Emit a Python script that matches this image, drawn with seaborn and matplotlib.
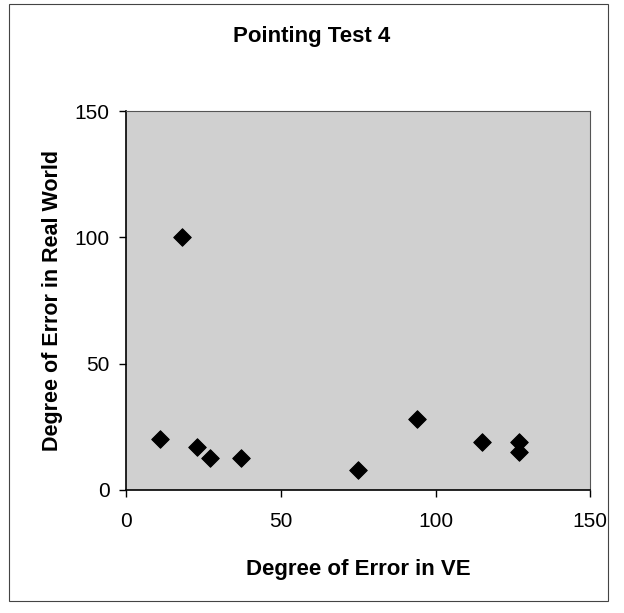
import pandas as pd
import matplotlib.pyplot as plt
import seaborn as sns

# Pointing Test 4 values
error_ve = [11, 18, 23, 27, 37, 75, 94, 115, 127, 127]
error_real = [20, 100, 17, 12.5, 12.5, 8, 28, 19, 19, 15]
ticks = [0, 50, 100, 150]

df = pd.DataFrame({'ve': error_ve, 'real': error_real})

sns.set_style('ticks')
plt.rcParams['font.family'] = ['Liberation Sans', 'DejaVu Sans']
plt.rcParams['text.color'] = 'black'
plt.rcParams['axes.labelcolor'] = 'black'
plt.rcParams['xtick.color'] = 'black'
plt.rcParams['ytick.color'] = 'black'

fig = plt.figure(figsize=(6.24, 6.13), dpi=100)
ax = fig.add_axes([0.202, 0.2007, 0.744, 0.618])
ax.set_facecolor('#d0d0d0')

sns.scatterplot(x='ve', y='real', data=df, marker='D', s=80, color='black',
                edgecolor='black', ax=ax)

ax.set_xlim(0, 150)
ax.set_ylim(0, 150)
ax.set_xticks(ticks)
ax.set_yticks(ticks)
ax.tick_params(axis='both', labelsize=15, direction='out', length=5,
               width=1, color='black')
ax.tick_params(axis='x', pad=11)
ax.tick_params(axis='y', pad=7)
for side in ['top', 'right']:
    ax.spines[side].set_color('#555555')
for side in ['left', 'bottom']:
    ax.spines[side].set_color('black')
    ax.spines[side].set_linewidth(1.2)

ax.set_xlabel('Degree of Error in VE', fontsize=16, fontweight='bold', labelpad=20)
ax.set_ylabel('Degree of Error in Real World', fontsize=15.5, fontweight='bold', labelpad=8)
fig.text(0.5, 0.94, 'Pointing Test 4', ha='center', va='center',
         fontsize=16, fontweight='bold')

# outer chart frame
fig.patches.append(plt.Rectangle((0.014, 0.02), 0.96, 0.973, transform=fig.transFigure,
                                 fill=False, edgecolor='#444444', linewidth=0.8))

fig.savefig('out.png', dpi=100)
